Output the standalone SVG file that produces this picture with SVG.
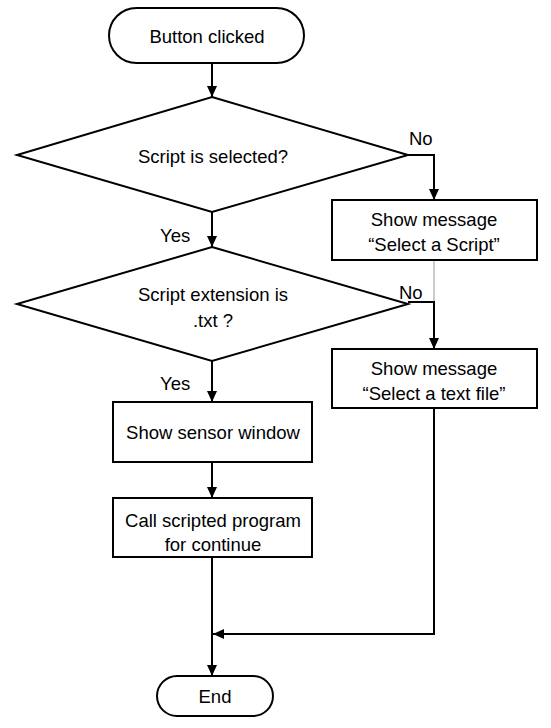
<svg xmlns="http://www.w3.org/2000/svg" width="551" height="728" viewBox="0 0 551 728">
<style>
.s{fill:#fff;stroke:#000;stroke-width:2}
.c{fill:none;stroke:#000;stroke-width:2}
.t{font-family:"Liberation Sans",Arial,sans-serif;font-size:18.5px;fill:#000;text-anchor:middle}
.l{font-family:"Liberation Sans",Arial,sans-serif;font-size:18.5px;fill:#000}
</style>
<defs>
<marker id="ah" viewBox="0 0 11 10" refX="11" refY="5" markerWidth="11" markerHeight="10" markerUnits="userSpaceOnUse" orient="auto">
<path d="M0,0 L11,5 L0,10 z" fill="#000"/>
</marker>
</defs>
<g id="connectors">
<path class="c" d="M212,63 V97" marker-end="url(#ah)"/>
<path class="c" d="M212,212 V247" marker-end="url(#ah)"/>
<path class="c" d="M408,155 H434 V200" marker-end="url(#ah)"/>
<path d="M434,260 V302" fill="none" stroke="#999" stroke-width="1"/>
<path class="c" d="M408,302 H434 V349" marker-end="url(#ah)"/>
<path class="c" d="M212,361 V402" marker-end="url(#ah)"/>
<path class="c" d="M212,462 V498" marker-end="url(#ah)"/>
<path class="c" d="M212,557 V676" marker-end="url(#ah)"/>
<path class="c" d="M434,408 V634 H213" marker-end="url(#ah)"/>
<text class="l" x="409" y="145">No</text>
<text class="l" x="399" y="299">No</text>
<text class="l" x="160" y="242">Yes</text>
<text class="l" x="160" y="390">Yes</text>
</g>
<g id="start">
<rect class="s" x="109" y="8" width="195" height="55" rx="27.5"/>
<text class="t" x="207" y="43">Button clicked</text>
</g>
<g id="dec1">
<polygon class="s" points="212,97 408,155 212,212 17,155"/>
<text class="t" x="213" y="163">Script is selected?</text>
</g>
<g id="msg1">
<rect class="s" x="332" y="200" width="205" height="60"/>
<text class="t" x="434" y="226">Show message</text>
<text class="t" x="434" y="251">“Select a Script”</text>
</g>
<g id="dec2">
<polygon class="s" points="212,247 408,304 212,361 17,304"/>
<text class="t" x="213" y="301">Script extension is</text>
<text class="t" x="213" y="327">.txt ?</text>
</g>
<g id="msg2">
<rect class="s" x="332" y="349" width="205" height="59"/>
<text class="t" x="434" y="375">Show message</text>
<text class="t" x="434" y="400">“Select a text file”</text>
</g>
<g id="sensor">
<rect class="s" x="113" y="402" width="199" height="60"/>
<text class="t" x="213" y="439">Show sensor window</text>
</g>
<g id="call">
<rect class="s" x="113" y="498" width="199" height="59"/>
<text class="t" x="213" y="527">Call scripted program</text>
<text class="t" x="213" y="551">for continue</text>
</g>
<g id="end">
<rect class="s" x="157" y="676" width="116" height="40" rx="20"/>
<text class="t" x="215" y="703">End</text>
</g>
</svg>
